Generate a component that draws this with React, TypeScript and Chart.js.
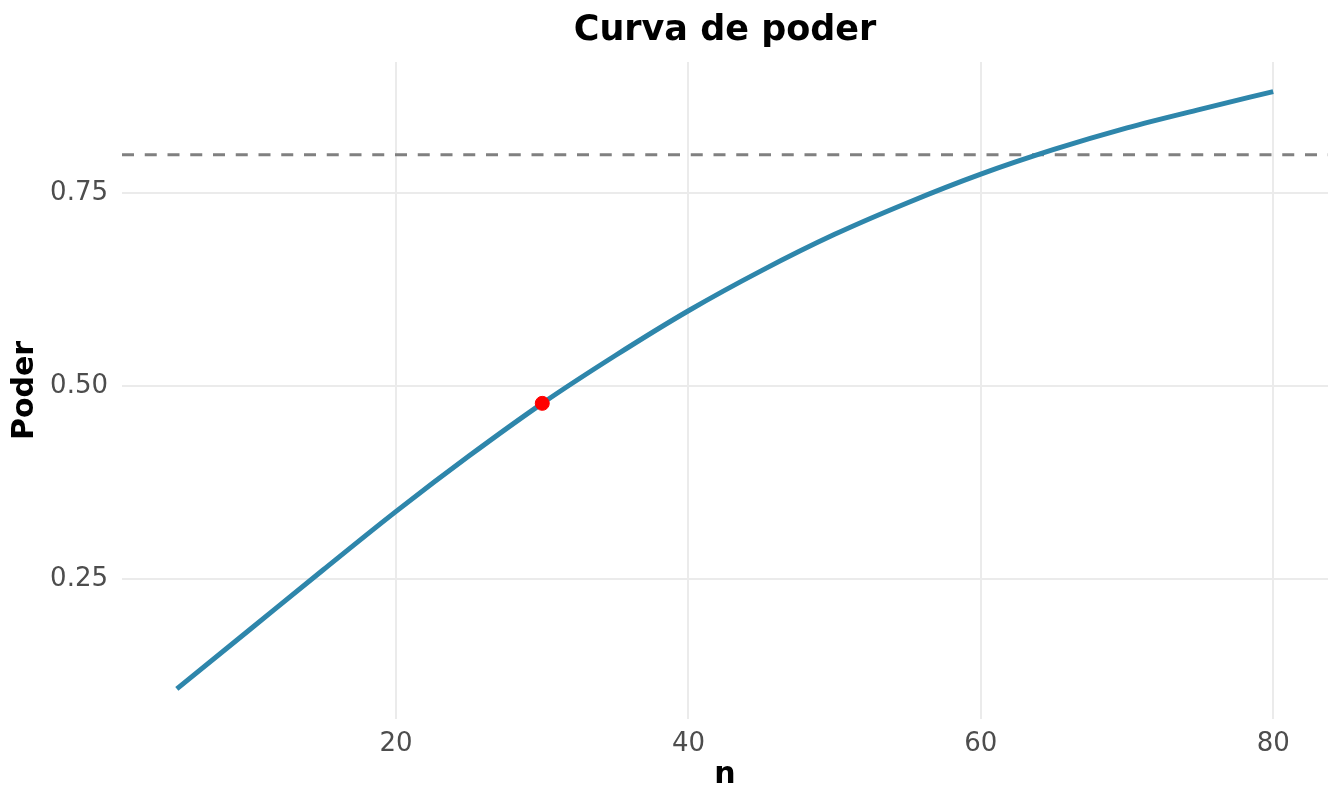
import React, { useEffect, useRef } from "react";
import { Chart, registerables, Plugin } from "chart.js";

Chart.register(...registerables);

// Power curve values (n = sample size per group)
const sampleSizes = [5, 10, 15, 20, 25, 30, 35, 40, 45, 50, 55, 60, 65, 70, 75, 80];
const powerValues = [
  0.108, 0.185, 0.262, 0.338, 0.41, 0.478, 0.54, 0.598, 0.65, 0.697, 0.738,
  0.775, 0.807, 0.835, 0.859, 0.882,
];

// Highlighted design point and the target power line
const highlightN = 30;
const highlightPower = 0.478;
const targetPower = 0.8;

const xTicks = [20, 40, 60, 80];
const yTicks = [0.25, 0.5, 0.75];

const FONT = "'DejaVu Sans', sans-serif";

// dashed horizontal reference line across the whole panel
const targetLinePlugin: Plugin<"line"> = {
  id: "targetLine",
  beforeDatasetsDraw(chart) {
    const { ctx, chartArea, scales } = chart;
    const y = scales.y.getPixelForValue(targetPower);
    ctx.save();
    ctx.strokeStyle = "#808080";
    ctx.lineWidth = 3;
    ctx.setLineDash([12, 10.75]);
    ctx.beginPath();
    ctx.moveTo(chartArea.left, y);
    ctx.lineTo(chartArea.right, y);
    ctx.stroke();
    ctx.restore();
  },
};

const PowerCurveChart: React.FC = () => {
  const chartRef = useRef<HTMLCanvasElement>(null);
  const chartInstance = useRef<Chart | null>(null);

  useEffect(() => {
    if (!chartRef.current) return;
    if (chartInstance.current) chartInstance.current.destroy();

    const ctx = chartRef.current.getContext("2d");
    if (!ctx) return;

    chartInstance.current = new Chart(ctx, {
      type: "line",
      data: {
        datasets: [
          {
            label: "Punto",
            data: [{ x: highlightN, y: highlightPower }],
            showLine: false,
            pointRadius: 7,
            pointBorderWidth: 1,
            pointBackgroundColor: "#FF0000",
            pointBorderColor: "#FF0000",
            order: 0,
          },
          {
            label: "Poder",
            data: sampleSizes.map((n, i) => ({ x: n, y: powerValues[i] })),
            borderColor: "#2E86AB",
            borderWidth: 5,
            pointRadius: 0,
            fill: false,
            cubicInterpolationMode: "monotone",
            order: 1,
          },
        ],
      },
      options: {
        responsive: false,
        animation: false,
        layout: { padding: { left: 0, right: 16, top: 0, bottom: 0 } },
        plugins: {
          legend: { display: false },
          tooltip: { enabled: false },
        },
        scales: {
          // top axis only carries the plot title, centred over the panel
          top: {
            type: "linear",
            position: "top",
            min: 1.25,
            max: 83.75,
            afterFit: (scale) => {
              scale.height = 62;
            },
            grid: { display: false },
            border: { display: false },
            ticks: { display: false },
            title: {
              display: true,
              text: "Curva de poder",
              color: "#000000",
              font: { family: FONT, size: 35, weight: "bold" },
              padding: { top: 10, bottom: 0 },
            },
          },
          x: {
            type: "linear",
            min: 1.25,
            max: 83.75,
            afterBuildTicks: (scale) => {
              scale.ticks = xTicks.map((v) => ({ value: v }));
            },
            afterFit: (scale) => {
              scale.height = 87;
            },
            grid: { color: "#EBEBEB", lineWidth: 2, drawTicks: false },
            border: { display: false },
            ticks: {
              color: "#4D4D4D",
              padding: 10,
              font: { family: FONT, size: 26 },
              maxRotation: 0,
            },
            title: {
              display: true,
              text: "n",
              color: "#000000",
              font: { family: FONT, size: 30, weight: "bold" },
              padding: { top: 0, bottom: 13 },
            },
          },
          y: {
            type: "linear",
            min: 0.069,
            max: 0.9203,
            afterBuildTicks: (scale) => {
              scale.ticks = yTicks.map((v) => ({ value: v }));
            },
            afterFit: (scale) => {
              scale.width = 122;
            },
            grid: { color: "#EBEBEB", lineWidth: 2, drawTicks: false },
            border: { display: false },
            ticks: {
              color: "#4D4D4D",
              padding: 14,
              font: { family: FONT, size: 26 },
              callback: (v) => Number(v).toFixed(2),
            },
            title: {
              display: true,
              text: "Poder",
              color: "#000000",
              font: { family: FONT, size: 30, weight: "bold" },
              padding: { top: 7, bottom: 0 },
            },
          },
        },
      },
      plugins: [targetLinePlugin],
    });

    return () => {
      if (chartInstance.current) {
        chartInstance.current.destroy();
        chartInstance.current = null;
      }
    };
  }, []);

  return (
    <div style={{ position: "absolute", left: 0, top: 0, width: 1344, height: 806, background: "#fff" }}>
      <canvas ref={chartRef} width={1344} height={806}></canvas>
    </div>
  );
};

export default function App() {
  return <PowerCurveChart />;
}
